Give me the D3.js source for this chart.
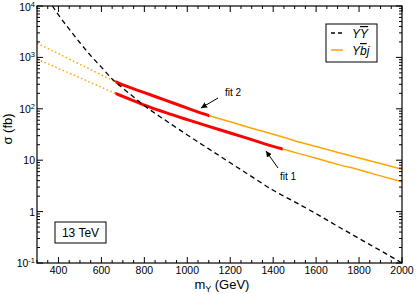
<!DOCTYPE html>
<html>
<head>
<meta charset="utf-8">
<script src="https://cdn.jsdelivr.net/npm/d3@7"></script>
<style>
  body { margin: 0; background: #fff; }
  svg { display: block; font-family: "Liberation Sans", Arial, sans-serif; }
</style>
</head>
<body>
<div id="chart"></div>
<script>
// data (mass in GeV, cross section in fb)
const yyMass = [350, 400, 450, 500, 550, 600, 650, 700, 750, 800, 900, 1000, 1100, 1200, 1300, 1400, 1500, 1600, 1700, 1800, 1900, 2000];
const yyXsec = [14000, 6700, 3550, 1930, 1080, 646, 380, 251, 170, 115, 59, 31, 16.6, 8.9, 4.8, 2.6, 1.55, 0.91, 0.52, 0.30, 0.174, 0.1];

const ybjMass = [300, 400, 500, 600, 665, 700, 800, 900, 1000, 1100, 1200, 1300, 1400, 1500, 1600, 1700, 1800, 1900, 2000];
const ybjFit2 = [1880, 1180, 735, 455, 336, 292, 206, 146, 103, 74, 56, 42, 32, 24, 18.4, 14.2, 11, 8.6, 6.65];
const ybjFit1 = [930, 611, 401, 263, 200, 174, 118, 84, 61.5, 45.5, 33.9, 25.1, 18.6, 14.2, 10.9, 8.3, 6.5, 4.95, 3.8];

const fitStart = 665;
const fitNames = ['fit 2', 'fit 1'];
const fitEnds = [1102, 1444];

const xTicks = [400, 600, 800, 1000, 1200, 1400, 1600, 1800, 2000];
const yTicks = [0.1, 1, 10, 100, 1000, 10000];
const yTickExp = [-1, 0, 1, 2, 3, 4];

const W = 416, H = 294;
const margin = {top: 6, right: 14, bottom: 31, left: 37};
const x0 = margin.left, x1 = W - margin.right, y0 = margin.top, y1 = H - margin.bottom;

const svg = d3.select('#chart').append('svg')
    .attr('width', W)
    .attr('height', H);

const xScale = d3.scaleLinear().domain([300, 2000]).range([x0, x1]);
const yScale = d3.scaleLog().domain([0.1, 10000]).range([y1, y0]);

const defs = svg.append('defs');
// clip regions
function addClip(id, mLo, mHi) {
    defs.append('clipPath').attr('id', id)
        .append('rect')
        .attr('x', xScale(mLo)).attr('y', y0)
        .attr('width', xScale(mHi) - xScale(mLo))
        .attr('height', y1 - y0);
}
addClip('clipAll', 300, 2000);
addClip('clipDot', 300, fitStart);
addClip('clipSolid', fitStart, 2000);
fitEnds.forEach((e, i) => addClip('clipFit' + i, fitStart, e));

defs.append('marker')
    .attr('id', 'arrow')
    .attr('viewBox', '0 0 10 10')
    .attr('refX', 10).attr('refY', 5)
    .attr('markerWidth', 6).attr('markerHeight', 6)
    .attr('markerUnits', 'userSpaceOnUse')
    .attr('orient', 'auto')
    .append('path')
    .attr('d', 'M0,0 L10,5 L0,10 Z')
    .attr('fill', '#000');

const line = d3.line()
    .x(d => xScale(d[0]))
    .y(d => yScale(d[1]))
    .curve(d3.curveMonotoneX);

const fits = [ybjFit2, ybjFit1].map(vals => ybjMass.map((m, i) => [m, vals[i]]));
const yyData = yyMass.map((m, i) => [m, yyXsec[i]]);

// Ybj curves: dotted below fit start, solid above, red over the fit range
fits.forEach((pts, i) => {
    svg.append('path')
        .attr('d', line(pts))
        .attr('clip-path', 'url(#clipDot)')
        .attr('fill', 'none')
        .attr('stroke', '#ffa500')
        .attr('stroke-width', 1.5)
        .attr('stroke-dasharray', '1.5,2.5');
    svg.append('path')
        .attr('d', line(pts))
        .attr('clip-path', 'url(#clipSolid)')
        .attr('fill', 'none')
        .attr('stroke', '#ffa500')
        .attr('stroke-width', 1.5);
    svg.append('path')
        .attr('d', line(pts))
        .attr('clip-path', 'url(#clipFit' + i + ')')
        .attr('fill', 'none')
        .attr('stroke', '#ff0000')
        .attr('stroke-width', 3);
});

// YY curve
svg.append('path')
    .attr('d', line(yyData))
    .attr('clip-path', 'url(#clipAll)')
    .attr('fill', 'none')
    .attr('stroke', '#000')
    .attr('stroke-width', 1.3)
    .attr('stroke-dasharray', '5,3.5');

//************** AXES ******************//
const xMinor = d3.range(300, 2001, 50);
const yMinor = [];
yTicks.slice(0, -1).forEach(t => { for (let k = 2; k <= 9; k++) yMinor.push(t * k); });

const tickG = svg.append('g').attr('stroke', '#000').attr('stroke-width', 1);
xMinor.forEach(m => {
    const len = xTicks.includes(m) ? 6 : 3;
    const px = xScale(m);
    tickG.append('line').attr('x1', px).attr('x2', px).attr('y1', y1).attr('y2', y1 - len);
    tickG.append('line').attr('x1', px).attr('x2', px).attr('y1', y0).attr('y2', y0 + len);
});
yTicks.concat(yMinor).forEach(v => {
    const len = yTicks.includes(v) ? 6 : 3;
    const py = yScale(v);
    tickG.append('line').attr('x1', x0).attr('x2', x0 + len).attr('y1', py).attr('y2', py);
    tickG.append('line').attr('x1', x1).attr('x2', x1 - len).attr('y1', py).attr('y2', py);
});

svg.append('rect')
    .attr('x', x0).attr('y', y0)
    .attr('width', x1 - x0).attr('height', y1 - y0)
    .attr('fill', 'none')
    .attr('stroke', '#000')
    .attr('stroke-width', 1.2);

svg.selectAll('.xlab')
    .data(xTicks)
    .enter()
    .append('text')
    .attr('class', 'xlab')
    .attr('x', d => xScale(d))
    .attr('y', y1 + 11)
    .attr('text-anchor', 'middle')
    .attr('font-size', 10.5)
    .text(d => d);

yTicks.forEach((v, i) => {
    const e = yTickExp[i];
    const t = svg.append('text')
        .attr('x', x0 - 2)
        .attr('y', Math.max(yScale(v) + 4, 11))
        .attr('text-anchor', 'end')
        .attr('font-size', 10.5);
    if (e === 0) { t.text('1'); }
    else if (e === 1) { t.text('10'); }
    else {
        t.append('tspan').text('10');
        t.append('tspan').attr('dy', -4).attr('font-size', 7.5).text(e);
    }
});

// axis titles
const xt = svg.append('text')
    .attr('x', 222).attr('y', 289)
    .attr('text-anchor', 'middle')
    .attr('font-size', 13);
xt.append('tspan').text('m');
xt.append('tspan').attr('dy', 3).attr('font-size', 8.5).text('Y');
xt.append('tspan').attr('dy', -3).text(' (GeV)');

svg.append('text')
    .attr('transform', 'translate(12,129) rotate(-90)')
    .attr('text-anchor', 'middle')
    .attr('font-size', 13)
    .text('σ (fb)');

//************* LEGEND *************//
const lg = svg.append('g');
lg.append('rect')
    .attr('x', 326).attr('y', 24).attr('width', 51).attr('height', 38)
    .attr('fill', '#fff').attr('stroke', '#000').attr('stroke-width', 1);
lg.append('line').attr('x1', 331).attr('x2', 343).attr('y1', 33).attr('y2', 33)
    .attr('stroke', '#000').attr('stroke-width', 1.3).attr('stroke-dasharray', '4,3');
lg.append('line').attr('x1', 331).attr('x2', 343).attr('y1', 50).attr('y2', 50)
    .attr('stroke', '#ffa500').attr('stroke-width', 1.5);
const l1 = lg.append('text').attr('x', 352).attr('y', 38).attr('font-size', 12).attr('font-style', 'italic');
l1.append('tspan').text('Y');
l1.append('tspan').style('text-decoration', 'overline').text('Y');
const l2 = lg.append('text').attr('x', 352).attr('y', 55).attr('font-size', 12).attr('font-style', 'italic');
l2.append('tspan').text('Y');
l2.append('tspan').style('text-decoration', 'overline').text('b');
l2.append('tspan').text('j');

// energy box
svg.append('rect')
    .attr('x', 55).attr('y', 222).attr('width', 51).attr('height', 21)
    .attr('fill', '#fff').attr('stroke', '#000').attr('stroke-width', 1);
svg.append('text')
    .attr('x', 80.5).attr('y', 237)
    .attr('text-anchor', 'middle')
    .attr('font-size', 12)
    .text('13 TeV');

//************* ANNOTATIONS *************//
const notes = [
    {text: fitNames[0], tx: 225, ty: 96, from: [218, 98], to: [201, 108]},
    {text: fitNames[1], tx: 280, ty: 180, from: [278, 168], to: [266, 151]}
];
notes.forEach(n => {
    svg.append('text')
        .attr('x', n.tx).attr('y', n.ty)
        .attr('font-size', 10)
        .text(n.text);
    svg.append('line')
        .attr('x1', n.from[0]).attr('y1', n.from[1])
        .attr('x2', n.to[0]).attr('y2', n.to[1])
        .attr('stroke', '#000').attr('stroke-width', 1)
        .attr('marker-end', 'url(#arrow)');
});
</script>
</body>
</html>
